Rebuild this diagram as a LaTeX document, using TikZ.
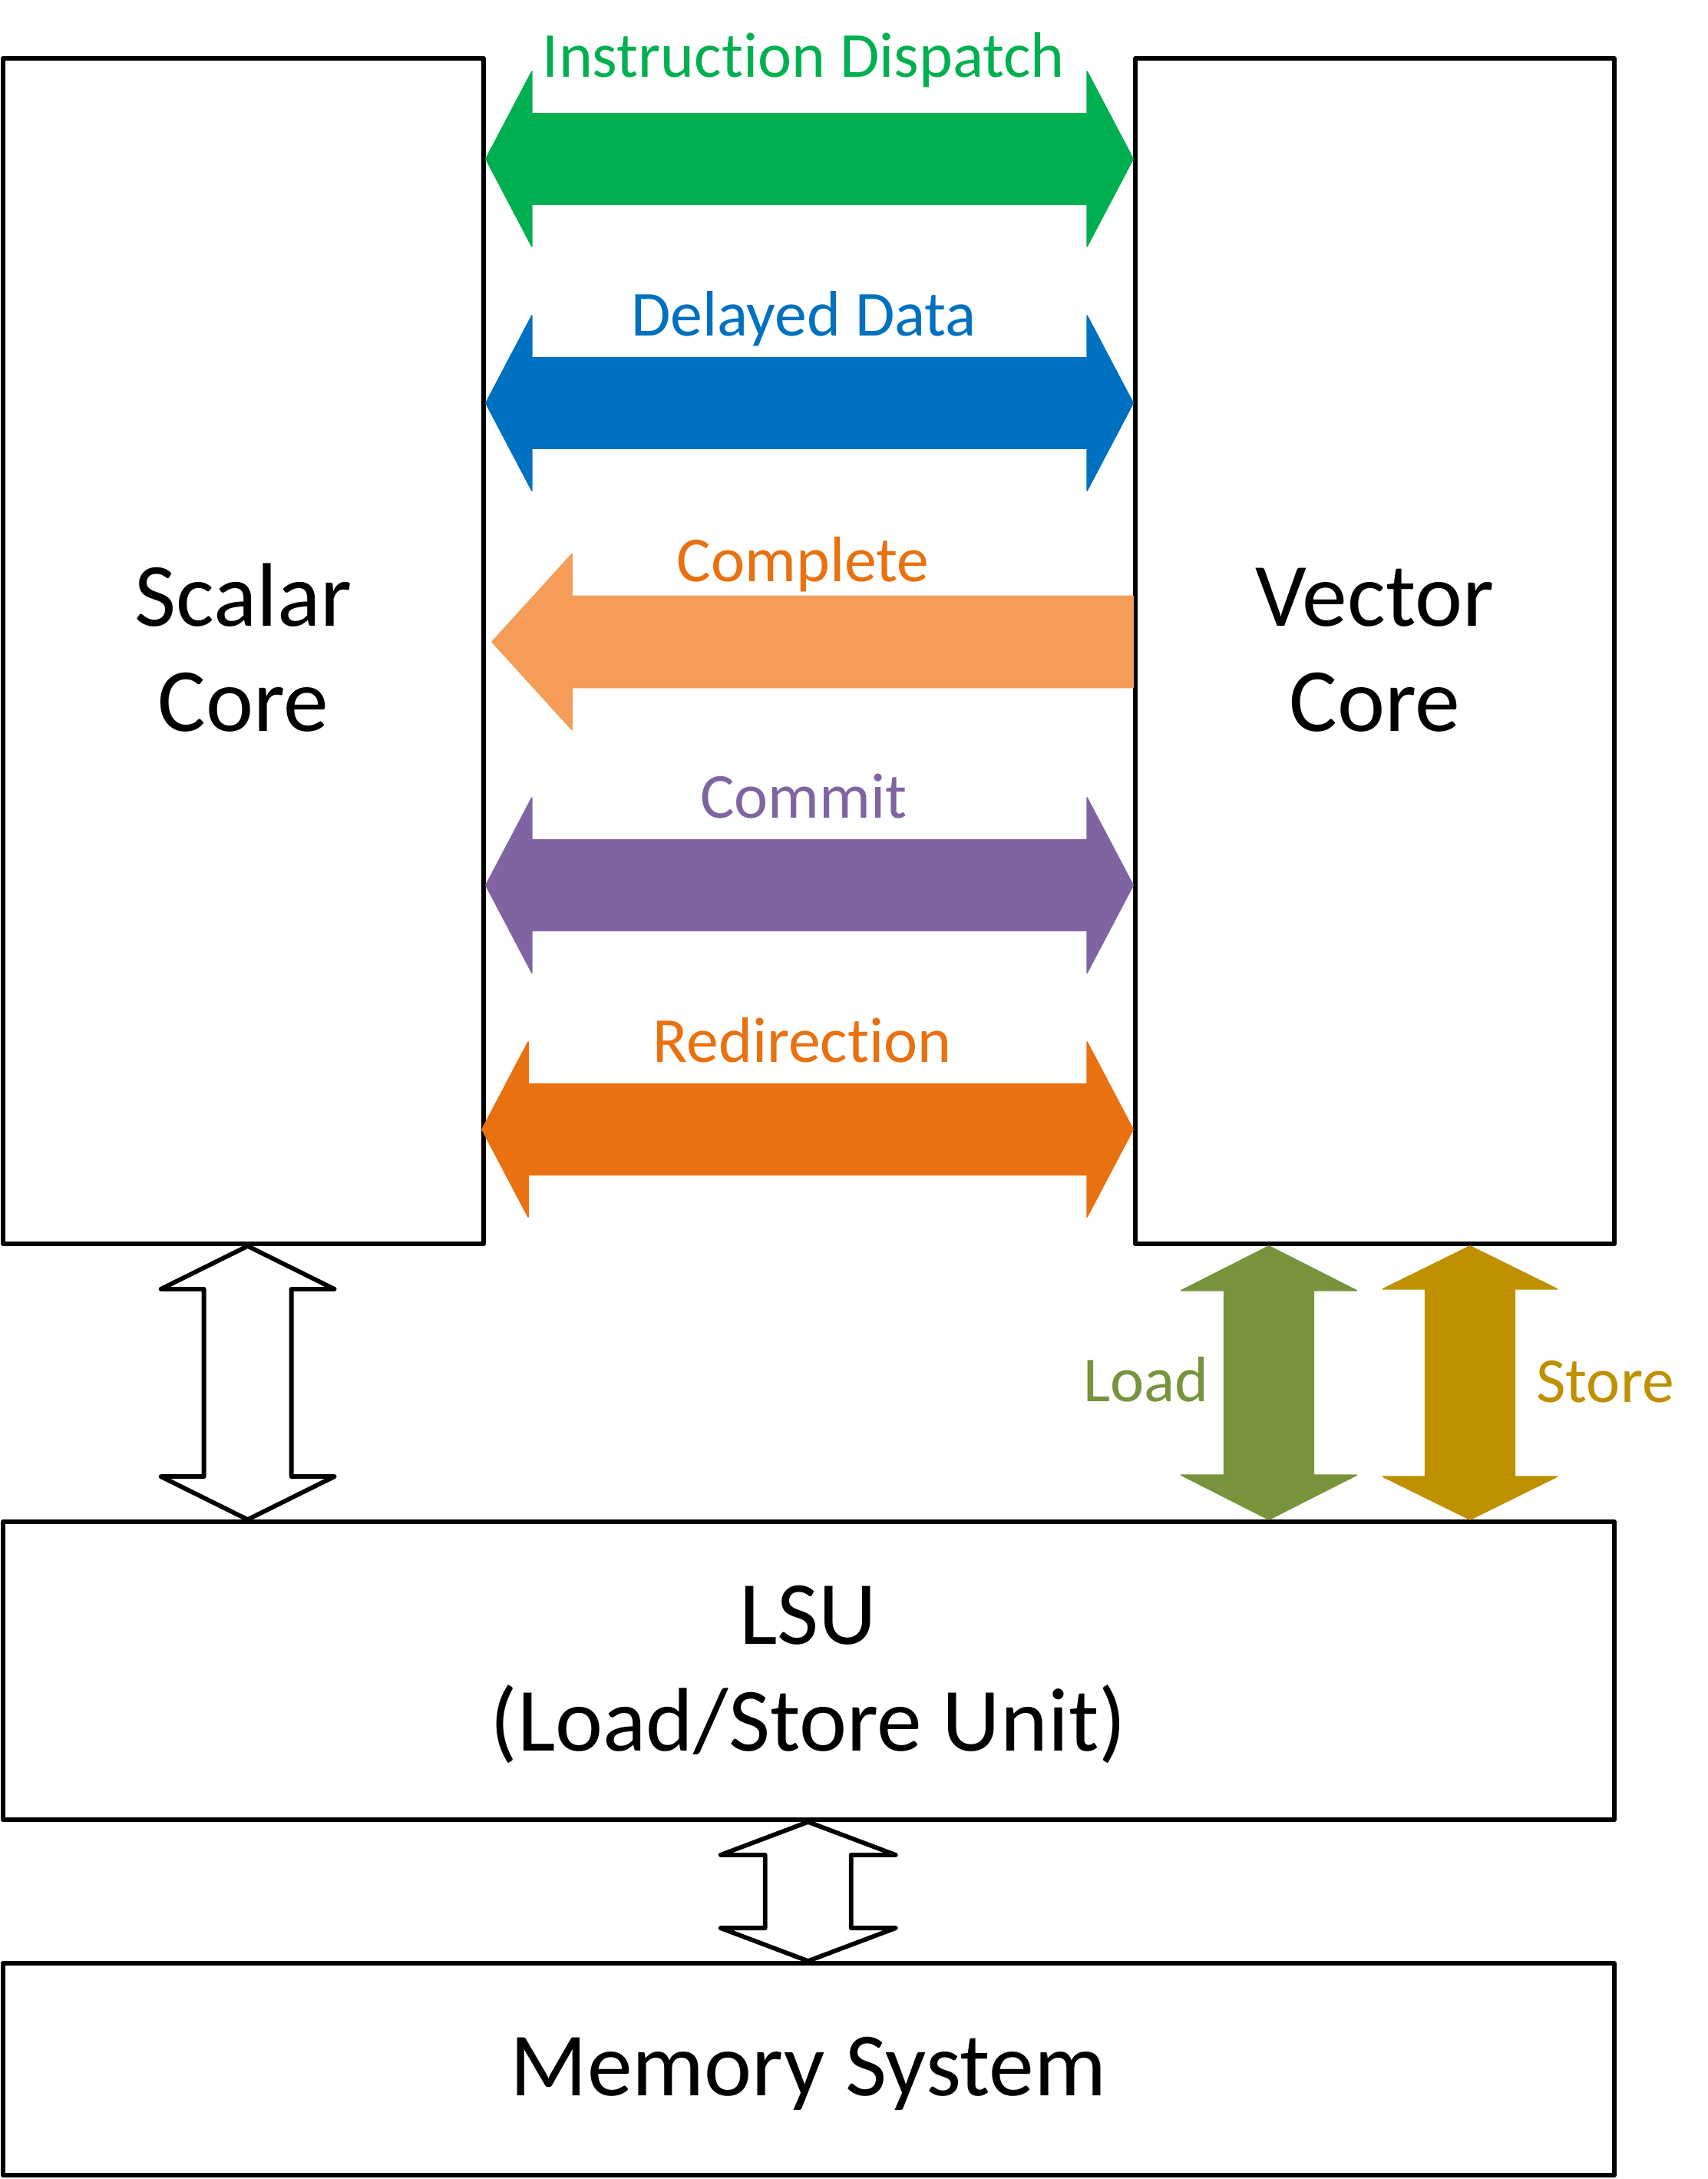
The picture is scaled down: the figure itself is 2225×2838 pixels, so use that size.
\documentclass[tikz,border=0pt]{standalone}
\usepackage{fontspec}
\setmainfont{Carlito}[Ligatures={NoCommon,NoContextual}]
\usetikzlibrary{calc}
\definecolor{cgreen}{HTML}{00B050}
\definecolor{cblue}{HTML}{0070C0}
\definecolor{clorange}{HTML}{F59D58}
\definecolor{corange}{HTML}{E97110}
\definecolor{cpurple}{HTML}{8064A2}
\definecolor{colive}{HTML}{77933C}
\definecolor{cgold}{HTML}{BF9000}
% double-headed horizontal block arrow: style, left tip, right tip, head length, head half-height, shaft half-height
\newcommand\hdouble[6]{%
  \path[#1] let \p1=(#2), \p2=(#3) in
    (\p1) -- (\x1+#4,\y1+#5) -- (\x1+#4,\y1+#6) -- (\x2-#4,\y1+#6) -- (\x2-#4,\y1+#5)
    -- (\x2,\y1) -- (\x2-#4,\y1-#5) -- (\x2-#4,\y1-#6) -- (\x1+#4,\y1-#6) -- (\x1+#4,\y1-#5) -- cycle;}
% single-headed block arrow pointing left: style, tip, tail end, head length, head half-height, shaft half-height
\newcommand\hleft[6]{%
  \path[#1] let \p1=(#2), \p2=(#3) in
    (\p1) -- (\x1+#4,\y1+#5) -- (\x1+#4,\y1+#6) -- (\x2,\y1+#6) -- (\x2,\y1-#6)
    -- (\x1+#4,\y1-#6) -- (\x1+#4,\y1-#5) -- cycle;}
% double-headed vertical block arrow: style, top tip, bottom tip, head length, head half-width, shaft half-width
\newcommand\vdouble[6]{%
  \path[#1] let \p1=(#2), \p2=(#3) in
    (\p1) -- (\x1+#5,\y1-#4) -- (\x1+#6,\y1-#4) -- (\x1+#6,\y2+#4) -- (\x1+#5,\y2+#4)
    -- (\x1,\y2) -- (\x1-#5,\y2+#4) -- (\x1-#6,\y2+#4) -- (\x1-#6,\y1-#4) -- (\x1-#5,\y1-#4) -- cycle;}
\begin{document}
\begin{tikzpicture}[x=0.25pt,y=-0.25pt,
  box/.style={draw=black, line width=1.45pt, inner sep=0pt, line join=round},
  big/.style={inner sep=0pt, anchor=base, font=\fontsize{29.4pt}{35pt}\selectfont},
  lbl/.style={inner sep=0pt, anchor=base, font=\fontsize{20.9pt}{25pt}\selectfont},
  hollow/.style={draw=black, fill=white, line width=1.45pt, line join=round},
  solid/.style={fill=#1, draw=#1, line width=0.4pt, line join=round}]
\fill[white] (0,0) rectangle (2225,2838);
\useasboundingbox (0,0) rectangle (2225,2838);

% boxes
\node[box, minimum width=156.5pt, minimum height=386pt] (sc) at (317,848) {};
\node[box, minimum width=156pt, minimum height=386pt] (vc) at (1791,848) {};
\node[box, minimum width=524.75pt, minimum height=97pt] (lsu) at (1053.5,2176) {};
\node[box, minimum width=524.75pt, minimum height=69pt] (mem) at (1053.5,2695) {};

% box texts
\node[big] (scA) at (317,815) {Scalar};
\node[big] (scB) at (317,952) {Core};
\node[big] (vcA) at (1791,815) {Vector};
\node[big] (vcB) at (1791,952) {Core};
\node[big] (lsuA) at (1053,2141) {LSU};
\node[big] (lsuB) at (1053,2280) {(Load/Store Unit)};
\node[big] (memA) at (1053,2729) {Memory System};

% end points of the horizontal arrows
\coordinate (idL) at (sc.east |- 0,207);   \coordinate (idR) at (vc.west |- 0,207);
\coordinate (ddL) at (sc.east |- 0,525);   \coordinate (ddR) at (vc.west |- 0,525);
\coordinate (cpL) at (641,836);            \coordinate (cpR) at (vc.west |- 0,836);
\coordinate (cmL) at (sc.east |- 0,1153);  \coordinate (cmR) at (vc.west |- 0,1153);
\coordinate (rdL) at (628,1471);           \coordinate (rdR) at (vc.west |- 0,1471);

\hdouble{solid=cgreen}{idL}{idR}{15pt}{28.5pt}{14.75pt}
\hdouble{solid=cblue}{ddL}{ddR}{15pt}{28.5pt}{14.75pt}
\hleft{solid=clorange}{cpL}{cpR}{26pt}{28.6pt}{14.9pt}
\hdouble{solid=cpurple}{cmL}{cmR}{15pt}{28.5pt}{14.75pt}
\hdouble{solid=corange}{rdL}{rdR}{15pt}{28.5pt}{14.75pt}

% labels of the horizontal arrows
\node[lbl, text=cgreen] (tid) at (1047,100) {Instruction Dispatch};
\node[lbl, text=cblue] (tdd) at (1047,437) {Delayed Data};
\node[lbl, text=corange] (tcp) at (1046,757) {Complete};
\node[lbl, text=cpurple] (tcm) at (1047,1065) {Commit};
\node[lbl, text=corange] (trd) at (1045,1383) {Redirection};

% vertical arrows
\coordinate (sT) at (322.6,0 |- sc.south);  \coordinate (sB) at (322.6,0 |- lsu.north);
\coordinate (lT) at (1653,0 |- vc.south);   \coordinate (lB) at (1653,0 |- lsu.north);
\coordinate (tT) at (1915,0 |- vc.south);   \coordinate (tB) at (1915,0 |- lsu.north);
\coordinate (mT) at (1052.7,0 |- lsu.south); \coordinate (mB) at (1052.7,0 |- mem.north);

\vdouble{hollow}{sT}{sB}{14pt}{28.25pt}{14.25pt}
\vdouble{solid=colive}{lT}{lB}{14.5pt}{28.6pt}{14.6pt}
\vdouble{solid=cgold}{tT}{tB}{14pt}{28.4pt}{14.6pt}
\vdouble{hollow}{mT}{mB}{10.75pt}{28.5pt}{14pt}

\node[lbl, text=colive] (tld) at (1493,1825) {Load};
\node[lbl, text=cgold] (tst) at (2091,1826) {Store};
\end{tikzpicture}
\end{document}
